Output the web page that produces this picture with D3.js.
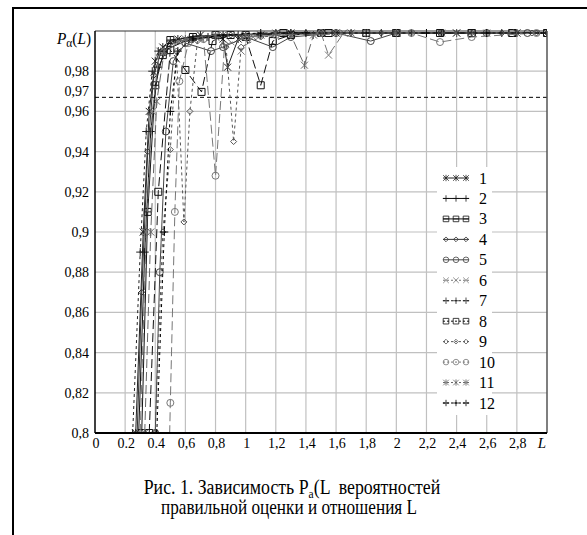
<!DOCTYPE html>
<html>
<head>
<meta charset="utf-8">
<script src="https://cdn.jsdelivr.net/npm/d3@7"></script>
<style>
  body { margin: 0; background: #fff; }
  svg { display: block; }
</style>
</head>
<body>
<script>
// L values and P(L) values, one array per curve
const s1 = [[0.27,0.80],[0.32,0.90],[0.36,0.96],[0.40,0.985],[0.45,0.992],[0.55,0.996],[0.7,0.998],[0.85,0.996],[0.88,0.982],[0.95,0.996],[1.1,0.998],[1.3,0.999],[1.6,0.999],[2.0,0.999],[2.4,0.999],[2.8,0.999],[3.0,0.999]]
const s2 = [[0.29,0.80],[0.33,0.89],[0.37,0.95],[0.42,0.982],[0.48,0.991],[0.6,0.995],[0.75,0.997],[0.95,0.998],[1.2,0.999],[1.5,0.999],[1.9,0.999],[2.3,0.999],[2.7,0.999],[3.0,0.999]]
const s3 = [[0.31,0.80],[0.35,0.91],[0.40,0.973],[0.45,0.988],[0.5,0.9955],[0.65,0.997],[0.8,0.998],[1.0,0.998],[1.25,0.999],[1.5,0.999],[2.0,0.999],[2.5,0.999],[2.77,0.999],[3.0,0.999]]
const s4 = [[0.28,0.80],[0.31,0.87],[0.35,0.94],[0.39,0.978],[0.44,0.99],[0.55,0.995],[0.7,0.997],[0.9,0.998],[1.2,0.999],[1.5,0.999],[1.9,0.999],[2.3,0.999],[2.7,0.999],[2.93,0.999]]
const s5 = [[0.40,0.80],[0.43,0.88],[0.47,0.95],[0.52,0.985],[0.6,0.994],[0.77,0.99],[0.85,0.992],[1.0,0.997],[1.18,0.992],[1.3,0.997],[1.6,0.999],[1.83,0.995],[2.0,0.999],[2.3,0.999],[2.6,0.999],[2.87,0.999]]
const s6 = [[0.30,0.80],[0.34,0.90],[0.38,0.96],[0.43,0.99],[0.55,0.995],[0.7,0.996],[0.85,0.998],[0.97,0.99],[1.05,0.997],[1.3,0.998],[1.5,0.999],[1.55,0.988],[1.65,0.999],[2.0,0.999],[2.3,0.999],[2.6,0.999],[3.0,0.999]]
const s7 = [[0.25,0.80],[0.30,0.89],[0.34,0.95],[0.38,0.98],[0.42,0.99],[0.5,0.995],[0.65,0.997],[0.8,0.998],[1.0,0.998],[1.3,0.999],[1.7,0.999],[2.1,0.999],[2.5,0.999],[3.0,0.999]]
const s8 = [[0.36,0.80],[0.42,0.92],[0.5,0.9905],[0.6,0.9806],[0.707,0.9697],[0.78,0.995],[0.9,0.998],[1.0,0.997],[1.1,0.973],[1.18,0.995],[1.3,0.998],[1.55,0.999],[1.8,0.999],[2.0,0.999],[2.29,0.999],[2.5,0.999],[2.77,0.999],[3.0,0.999]]
const s9 = [[0.40,0.80],[0.45,0.90],[0.5,0.941],[0.54,0.99],[0.59,0.905],[0.63,0.96],[0.68,0.995],[0.8,0.997],[0.87,0.992],[0.92,0.945],[0.97,0.992],[1.1,0.997],[1.4,0.999],[1.7,0.999],[2.1,0.999],[2.5,0.999],[2.9,0.999]]
const s10 = [[0.49,0.78],[0.5,0.815],[0.53,0.91],[0.56,0.975],[0.62,0.994],[0.72,0.996],[0.8,0.928],[0.86,0.993],[1.0,0.997],[1.2,0.998],[1.5,0.999],[1.8,0.999],[2.1,0.999],[2.29,0.9945],[2.5,0.997],[2.93,0.999]]
const s11 = [[0.33,0.80],[0.37,0.90],[0.41,0.965],[0.46,0.99],[0.6,0.996],[0.8,0.998],[1.0,0.998],[1.2,0.999],[1.3,0.998],[1.39,0.983],[1.45,0.998],[1.7,0.999],[2.0,0.999],[2.4,0.999],[2.8,0.999],[3.0,0.999]]
const s12 = [[0.41,0.80],[0.46,0.90],[0.5,0.96],[0.55,0.99],[0.65,0.996],[0.85,0.998],[1.1,0.999],[1.4,0.999],[1.8,0.999],[2.2,0.999],[2.6,0.999],[3.0,0.999]]

const seriesNames = ['1','2','3','4','5','6','7','8','9','10','11','12']
const xTicks = [0,0.2,0.4,0.6,0.8,1,1.2,1.4,1.6,1.8,2,2.2,2.4,2.6,2.8]
const xTickLabels = ['0','0.2','0.4','0,6','0,8','1','1,2','1,4','1,6','1,8','2','2,2','2,4','2,6','2,8']
const yTicks = [0.8,0.82,0.84,0.86,0.88,0.9,0.92,0.94,0.96,0.97,0.98]
const yTickLabels = ['0,8','0,82','0,84','0,86','0,88','0,9','0,92','0,94','0,96','0,97','0,98']
const yGrid = [0.82,0.84,0.86,0.88,0.9,0.92,0.94,0.96,0.98]
const threshold = 0.967

const allSeries = [s1,s2,s3,s4,s5,s6,s7,s8,s9,s10,s11,s12]

;(function () {
  // marker shapes
  const mk = {
    star: 'M-3.5,-3.5L3.5,3.5M-3.5,3.5L3.5,-3.5M0,-4L0,4',
    plus: 'M-4,0L4,0M0,-4L0,4',
    boxline: 'M-3.5,-3.5h7v7h-7zM-3.5,0h7',
    diamond: 'M0,-3L3,0L0,3L-3,0z',
    circle: 'M-3.5,0a3.5,3.5 0 1,0 7,0a3.5,3.5 0 1,0 -7,0',
    cross: 'M-3.5,-3.5L3.5,3.5M-3.5,3.5L3.5,-3.5',
    box: 'M-3.5,-3.5h7v7h-7z'
  }
  const styles = [
    { m: mk.star, c: '#222', dash: null },
    { m: mk.plus, c: '#111', dash: null },
    { m: mk.boxline, c: '#111', dash: null },
    { m: mk.diamond, c: '#333', dash: null },
    { m: mk.circle, c: '#444', dash: null },
    { m: mk.cross, c: '#777', dash: '9,4' },
    { m: mk.plus, c: '#222', dash: '3,3' },
    { m: mk.box, c: '#111', dash: '9,4' },
    { m: mk.diamond, c: '#555', dash: '3,3' },
    { m: mk.circle, c: '#777', dash: '9,4' },
    { m: mk.star, c: '#666', dash: '9,4' },
    { m: mk.plus, c: '#000', dash: '3,3' }
  ]

  const svg = d3.select('body').append('svg')
  svg.attr('width', 587).attr('height', 535)
    .attr('font-family', '"Liberation Serif", "Times New Roman", serif')

  // outer frame
  svg.append('rect')
    .attr('x', 13).attr('y', 8).attr('width', 600).attr('height', 600)
    .attr('fill', '#fff').attr('stroke', '#000').attr('stroke-width', 2)

  const pLeft = 95, pTop = 31, pRight = 547, pBottom = 433

  const x = d3.scaleLinear().domain([0, 3]).range([pLeft, pRight])
  const y = d3.scaleLinear().domain([0.8, 1]).range([pBottom, pTop])

  // grid
  svg.append('g').selectAll('line')
    .data(xTicks.slice(1))
    .enter().append('line')
    .attr('x1', d => x(d)).attr('x2', d => x(d))
    .attr('y1', pTop).attr('y2', pBottom)
    .attr('stroke', '#c0c0c0').attr('stroke-width', 1.2)

  svg.append('g').selectAll('line')
    .data(yGrid)
    .enter().append('line')
    .attr('x1', pLeft).attr('x2', pRight)
    .attr('y1', d => y(d)).attr('y2', d => y(d))
    .attr('stroke', '#c0c0c0').attr('stroke-width', 1.2)

  svg.append('line')
    .attr('x1', pLeft).attr('x2', pRight)
    .attr('y1', y(threshold)).attr('y2', y(threshold))
    .attr('stroke', '#000').attr('stroke-dasharray', '4,3')

  svg.append('clipPath').attr('id', 'clip')
    .append('rect').attr('x', pLeft).attr('y', pTop - 6)
    .attr('width', pRight - pLeft).attr('height', pBottom - pTop + 6)

  const line = d3.line().x(d => x(d[0])).y(d => y(d[1]))
  const plot = svg.append('g').attr('clip-path', 'url(#clip)')

  allSeries.forEach((s, i) => {
    const st = styles[i]
    plot.append('path')
      .attr('d', line(s))
      .attr('fill', 'none')
      .attr('stroke', st.c)
      .attr('stroke-width', 1)
      .attr('stroke-dasharray', st.dash)

    plot.selectAll(null)
      .data(s.filter(d => d[1] >= 0.8))
      .enter().append('path')
      .attr('transform', d => `translate(${x(d[0])},${y(d[1])})`)
      .attr('d', st.m)
      .attr('fill', 'none')
      .attr('stroke', st.c)
      .attr('stroke-width', 1)
  })

  // frame of plot
  svg.append('line').attr('x1', pLeft).attr('x2', pRight).attr('y1', pTop).attr('y2', pTop)
    .attr('stroke', '#333').attr('stroke-width', 1.2)
  svg.append('line').attr('x1', pRight).attr('x2', pRight).attr('y1', pTop).attr('y2', pBottom)
    .attr('stroke', '#555').attr('stroke-width', 1.5)
  svg.append('line').attr('x1', pLeft).attr('x2', pLeft).attr('y1', pTop).attr('y2', pBottom)
    .attr('stroke', '#000').attr('stroke-width', 1.5)
  svg.append('line').attr('x1', pLeft).attr('x2', pRight).attr('y1', pBottom).attr('y2', pBottom)
    .attr('stroke', '#000').attr('stroke-width', 2)

  // legend
  const lg = svg.append('g')
  lg.append('rect').attr('x', 437).attr('y', 167).attr('width', 55).attr('height', 248)
    .attr('fill', '#fff')
  const legY = d3.scaleLinear().domain([0, 11]).range([178, 403])
  seriesNames.forEach((name, i) => {
    const st = styles[i]
    const g = lg.append('g').attr('transform', `translate(0,${legY(i)})`)
    g.append('line').attr('x1', 443).attr('x2', 469).attr('y1', 0).attr('y2', 0)
      .attr('stroke', st.c).attr('stroke-dasharray', st.dash ? '2,2' : null)
    ;[446, 456, 466].forEach(px => {
      g.append('path').attr('transform', `translate(${px},0) scale(0.8)`)
        .attr('d', st.m).attr('fill', 'none').attr('stroke', st.c)
    })
    g.append('text').attr('x', 479).attr('y', 5.5).attr('font-size', 16).text(name)
  })

  // axis labels
  svg.append('g').selectAll('text')
    .data(yTicks)
    .enter().append('text')
    .attr('x', 89).attr('y', d => y(d) + 5)
    .attr('text-anchor', 'end').attr('font-size', 14)
    .text((d, i) => yTickLabels[i])

  svg.append('g').selectAll('text')
    .data(xTicks)
    .enter().append('text')
    .attr('x', d => x(d) + 1).attr('y', 448)
    .attr('text-anchor', 'middle').attr('font-size', 14)
    .text((d, i) => xTickLabels[i])

  svg.append('text').attr('x', 542).attr('y', 448).attr('font-size', 15)
    .attr('font-style', 'italic').attr('text-anchor', 'middle').text('L')

  const pl = svg.append('text').attr('x', 57).attr('y', 44).attr('font-size', 16)
    .attr('textLength', 34).attr('lengthAdjust', 'spacingAndGlyphs')
  pl.append('tspan').attr('font-style', 'italic').text('P')
  pl.append('tspan').attr('dy', 3).attr('font-size', 12).text('α')
  pl.append('tspan').attr('dy', -3).text('(')
  pl.append('tspan').attr('font-style', 'italic').text('L')
  pl.append('tspan').text(')')

  // caption, narrowed to the width of the original lines
  const c1 = svg.append('g').attr('transform', 'translate(292,494) scale(0.89,1)')
    .append('text').attr('x', 0).attr('y', 0).attr('font-size', 20)
    .attr('text-anchor', 'middle').style('white-space', 'pre')
  c1.append('tspan').text('Рис. 1. Зависимость P')
  c1.append('tspan').attr('dy', 4).attr('font-size', 13).text('a')
  c1.append('tspan').attr('dy', -4).text('(L  вероятностей')

  svg.append('g').attr('transform', 'translate(289,514) scale(0.86,1)')
    .append('text').attr('x', 0).attr('y', 0).attr('font-size', 20)
    .attr('text-anchor', 'middle')
    .text('правильной оценки и отношения L')
})()
</script>
</body>
</html>
